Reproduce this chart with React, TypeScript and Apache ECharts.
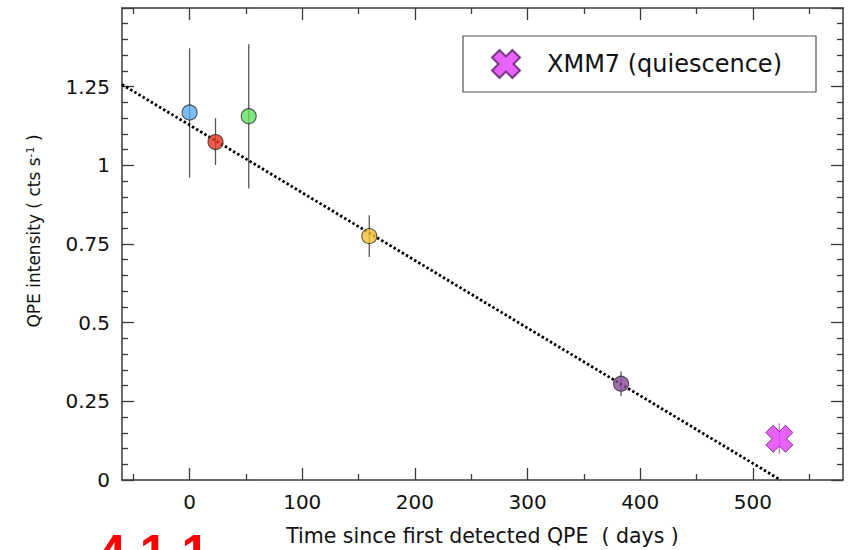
import React, { useEffect, useRef } from "react";
import * as echarts from "echarts";

// QPE epochs: days since first detection, intensity and 1-sigma bounds
const qpeDays = [0, 23, 52.5, 159.5, 383];
const qpeRates = [1.168, 1.074, 1.156, 0.775, 0.306];
const qpeRateLo = [0.961, 1.001, 0.926, 0.709, 0.267];
const qpeRateHi = [1.372, 1.15, 1.385, 0.841, 0.345];
const qpeColors = ["#5aacf0", "#e8341f", "#5fe15c", "#f4bf33", "#8a4b9c"];

// Quiescent XMM7 observation
const quietName = "XMM7 (quiescence)";
const quietDays = [523.5];
const quietRates = [0.131];
const quietRateLo = [0.083];
const quietRateHi = [0.18];

// Linear decay trend, end points
const trendDays = [-60, 524.6];
const trendRates = [1.257, 0];

// Axis ticks
const xMajorTicks = [0, 100, 200, 300, 400, 500];
const xMinorTicks = [-50, 50, 150, 250, 350, 450, 550];
const yMajorTicks = [0, 0.25, 0.5, 0.75, 1, 1.25, 1.5];
const yLabelTicks = [0, 0.25, 0.5, 0.75, 1, 1.25];
const yMinorTicks = [
  0.05, 0.1, 0.15, 0.2, 0.3, 0.35, 0.4, 0.45, 0.55, 0.6, 0.65, 0.7, 0.8, 0.85,
  0.9, 0.95, 1.05, 1.1, 1.15, 1.2, 1.3, 1.35, 1.4, 1.45,
];

const xTitle = "Time since first detected QPE  ( days )";
const yTitle = "QPE intensity ( cts s{sup|-1} )";

const FONT = '"DejaVu Sans", "Liberation Sans", Arial, sans-serif';
const BOLD_FONT = '"Liberation Sans", Arial, sans-serif';
const FRAME = "#3a3a3a";
const X_MIN = -60;
const X_MAX = 580;
const Y_MIN = 0;
const Y_MAX = 1.5;

const crossPath =
  "path://M0,27L27,0L50,23L73,0L100,27L77,50L100,73L73,100L50,77L27,100L0,73L23,50Z";

function tickAxis(
  dim: "x" | "y",
  gridIndex: number,
  position: string,
  ticks: number[],
  length: number,
  withLine: boolean,
  labels: number[] | null
): any {
  return {
    type: "value",
    gridIndex,
    position,
    min: dim === "x" ? X_MIN : Y_MIN,
    max: dim === "x" ? X_MAX : Y_MAX,
    axisLine: {
      show: withLine,
      onZero: false,
      lineStyle: { color: FRAME, width: 1.5 },
    },
    axisTick: {
      show: true,
      inside: true,
      length,
      customValues: ticks,
      lineStyle: { color: FRAME, width: 1.3 },
    },
    axisLabel: labels
      ? {
          show: true,
          customValues: labels,
          fontSize: 20,
          color: "#111",
          fontFamily: FONT,
          margin: 12,
        }
      : { show: false },
    splitLine: { show: false },
  };
}

export default function App() {
  const ref = useRef<HTMLDivElement>(null);

  useEffect(() => {
    if (!ref.current) return;
    const chart = echarts.init(ref.current, null, { renderer: "svg" });

    const gridBox = { left: 122, right: 14, top: 8, bottom: 70, outerBoundsMode: "none" };

    const xBottom = tickAxis("x", 0, "bottom", xMajorTicks, 12, true, xMajorTicks);
    xBottom.name = xTitle;
    xBottom.nameLocation = "middle";
    xBottom.nameGap = 45;
    xBottom.nameTextStyle = { fontSize: 20.5, color: "#111", fontFamily: FONT };

    const yLeft = tickAxis("y", 0, "left", yMajorTicks, 12, true, yLabelTicks);
    yLeft.name = yTitle;
    yLeft.nameLocation = "middle";
    yLeft.nameRotate = 90;
    yLeft.nameGap = 80;
    yLeft.nameTextStyle = {
      fontSize: 17,
      color: "#111",
      fontFamily: FONT,
      padding: [0, 0, 0, 26],
      rich: {
        sup: { fontSize: 11, verticalAlign: "top", fontFamily: FONT, color: "#111" },
      },
    };

    const errorBar = (color: string, width: number) => ({
      type: "custom",
      xAxisIndex: 0,
      yAxisIndex: 0,
      z: 2,
      silent: true,
      encode: { x: 0, y: [1, 2] },
      renderItem: (_p: any, api: any) => {
        const hi = api.coord([api.value(0), api.value(2)]);
        const lo = api.coord([api.value(0), api.value(1)]);
        return {
          type: "line",
          shape: { x1: hi[0], y1: hi[1], x2: lo[0], y2: lo[1] },
          style: { stroke: color, lineWidth: width },
        };
      },
    });

    chart.setOption({
      animation: false,
      backgroundColor: "#ffffff",
      grid: [gridBox, { ...gridBox }],
      xAxis: [
        xBottom,
        tickAxis("x", 0, "top", xMajorTicks, 12, true, null),
        tickAxis("x", 1, "bottom", xMinorTicks, 6, false, null),
        tickAxis("x", 1, "top", xMinorTicks, 6, false, null),
      ],
      yAxis: [
        yLeft,
        tickAxis("y", 0, "right", yMajorTicks, 12, true, null),
        tickAxis("y", 1, "left", yMinorTicks, 6, false, null),
        tickAxis("y", 1, "right", yMinorTicks, 6, false, null),
      ],
      legend: {
        show: true,
        left: 463,
        top: 36,
        padding: [13, 34, 13, 28],
        itemWidth: 28,
        itemHeight: 28,
        borderColor: "#555",
        borderWidth: 1.2,
        borderRadius: 0,
        backgroundColor: "#fff",
        selectedMode: false,
        textStyle: {
          fontSize: 24,
          color: "#111",
          fontFamily: FONT,
          padding: [0, 0, 0, 22],
        },
        data: [{ name: quietName, icon: crossPath }],
      },
      graphic: [
        {
          type: "text",
          x: 98,
          y: 528,
          style: {
            text: "4.1.1",
            fill: "#ff0000",
            font: `bold 50px ${BOLD_FONT}`,
            verticalAlign: "top",
          },
        },
      ],
      series: [
        {
          ...errorBar("#555555", 1.3),
          name: "qpe-errors",
          data: qpeDays.map((d, i) => [d, qpeRateLo[i], qpeRateHi[i]]),
        },
        {
          ...errorBar("#e070f0", 1.3),
          name: "quiet-errors",
          data: quietDays.map((d, i) => [d, quietRateLo[i], quietRateHi[i]]),
        },
        {
          type: "line",
          name: "trend",
          xAxisIndex: 0,
          yAxisIndex: 0,
          z: 3,
          symbol: "none",
          silent: true,
          data: trendDays.map((d, i) => [d, trendRates[i]]),
          lineStyle: { color: "#000", width: 2.8, type: [2.5, 2.3], cap: "butt" },
        },
        {
          type: "scatter",
          name: "qpe",
          xAxisIndex: 0,
          yAxisIndex: 0,
          z: 4,
          symbol: "circle",
          symbolSize: 15,
          data: qpeDays.map((d, i) => ({
            value: [d, qpeRates[i]],
            itemStyle: { color: qpeColors[i], borderColor: "#2a2a2a", borderWidth: 1.1 },
          })),
        },
        {
          type: "scatter",
          name: quietName,
          xAxisIndex: 0,
          yAxisIndex: 0,
          z: 4,
          symbol: crossPath,
          symbolSize: 27,
          itemStyle: { color: "#e23cf2", borderColor: "#5a1a66", borderWidth: 1 },
          data: quietDays.map((d, i) => [d, quietRates[i]]),
        },
      ],
    });

    return () => chart.dispose();
  }, []);

  return (
    <div
      ref={ref}
      style={{ position: "absolute", left: 0, top: 0, width: 857, height: 550 }}
    />
  );
}
